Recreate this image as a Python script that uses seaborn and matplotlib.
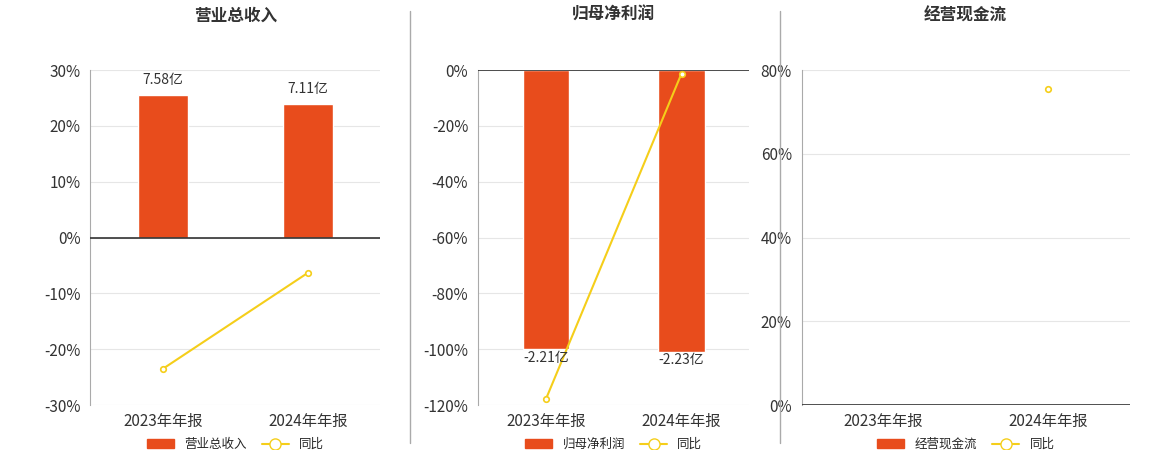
import matplotlib
matplotlib.use("Agg")
import matplotlib.pyplot as plt
import seaborn as sns
import numpy as np
import pandas as pd
from matplotlib.lines import Line2D
from matplotlib.patches import Patch

sns.set_style("white")
plt.rcParams['font.family'] = ['Noto Sans CJK SC', 'DejaVu Sans']

categories = ["2023年年报", "2024年年报"]
titles = ["营业总收入", "归母净利润", "经营现金流"]
bar_vals = [[7.58, 7.11], [-2.21, -2.23], [None, None]]
bar_labels = [["7.58亿", "7.11亿"], ["-2.21亿", "-2.23亿"], [None, None]]
yoy = [[-23.5, -6.3], [-118.0, -1.2], [None, 75.5]]
ylims = [(-30, 30), (-120, 0), (0, 80)]
yticks = [np.arange(-30, 31, 10), np.arange(-120, 1, 20), np.arange(0, 81, 20)]
bar_scale = [7.58 / 25.5, 2.21 / 100, 1]

BAR = "#E84C1C"
LINE = "#F5CE1A"
fig = plt.figure(figsize=(11.6, 4.5), dpi=100)
rects = [(0.078, 0.1, 0.25, 0.744), (0.412, 0.1, 0.234, 0.744), (0.691, 0.1, 0.283, 0.744)]

for i in range(3):
    ax = fig.add_axes(rects[i])
    ax.set_xlim(-0.5, 1.5)
    ax.set_ylim(*ylims[i])
    ax.set_yticks(yticks[i])
    ax.set_yticklabels([f"{int(v)}%" for v in yticks[i]], fontsize=11, color="#333")
    ax.grid(axis="y", color="#e6e6e6", lw=0.8)
    ax.set_axisbelow(True)
    for s in ["top", "right", "bottom"]:
        ax.spines[s].set_visible(False)
    ax.spines["left"].set_color("#aaa")
    ax.axhline(0, color="#333", lw=1.2, zorder=3)
    ax.set_xticks([0, 1])
    ax.set_xticklabels(categories, fontsize=11, color="#333")
    ax.tick_params(axis="x", length=0, pad=6)
    for xt in [0.5, 1.5]:
        ax.plot([xt, xt], [0, (ylims[i][1]-ylims[i][0])*-0.01], color="#333", lw=1, clip_on=False) if False else None
    ax.set_title(titles[i], fontsize=12, fontweight="bold", pad=36, color="#333")

    if bar_vals[i][0] is not None:
        df = pd.DataFrame({"cat": categories, "v": [v / bar_scale[i] for v in bar_vals[i]]})
        sns.barplot(data=df, x="cat", y="v", ax=ax, color=BAR, width=0.34, saturation=1, zorder=2)
        ax.set_xlabel(""); ax.set_ylabel("")
        ax.set_ylim(*ylims[i])
        ax.set_yticks(yticks[i])
        ax.set_yticklabels([f"{int(v)}%" for v in yticks[i]], fontsize=11, color="#333")
        for j, v in enumerate(bar_vals[i]):
            h = v / bar_scale[i]
            if v > 0:
                ax.text(j, h + 1.5, bar_labels[i][j], ha="center", va="bottom", fontsize=10, color="#333")
            else:
                ax.text(j, h - 0.5, bar_labels[i][j], ha="center", va="top", fontsize=10, color="#333", zorder=5)
    xs = [j for j, v in enumerate(yoy[i]) if v is not None]
    ys = [v for v in yoy[i] if v is not None]
    ax.plot(xs, ys, color=LINE, lw=1.5, marker="o", ms=4, mfc="white", mec=LINE, mew=1.2, zorder=4, clip_on=False)

    handles = [Patch(color=BAR), Line2D([], [], color=LINE, marker="o", mfc="white", mec=LINE, ms=8, lw=1.5)]
    ax.legend(handles, [titles[i], "同比"], loc="upper center", bbox_to_anchor=(0.5, -0.065),
              ncol=2, frameon=False, fontsize=9, handlelength=2.2, columnspacing=1.2)

for x in [410 / 1160, 780 / 1160]:
    fig.add_artist(Line2D([x, x], [0.015, 0.975], color="#aaa", lw=1))

fig.savefig("out.png", dpi=100)
